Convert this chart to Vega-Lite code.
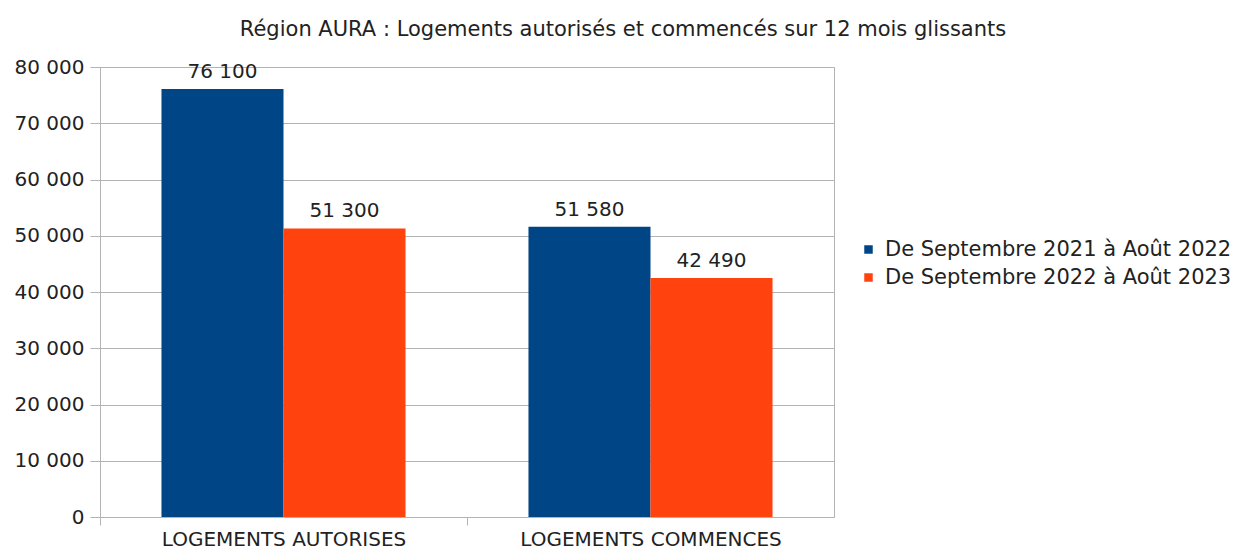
{
  "$schema": "https://vega.github.io/schema/vega-lite/v6.json",
  "width": 734,
  "height": 450,
  "autosize": {"type": "none"},
  "padding": {"left": 100, "top": 67, "right": 404, "bottom": 32},
  "background": "white",
  "title": {
    "text": "Région AURA : Logements autorisés et commencés sur 12 mois glissants",
    "frame": "bounds",
    "anchor": "middle",
    "font": "DejaVu Sans",
    "fontSize": 21,
    "fontWeight": "normal",
    "color": "#222222",
    "offset": 17
  },
  "config": {
    "view": {"stroke": "#b3b3b3", "strokeWidth": 1},
    "font": "DejaVu Sans",
    "locale": {
      "number": {"decimal": ",", "thousands": " ", "grouping": [3], "currency": ["", " €"]}
    }
  },
  "data": {
    "values": [
      {"cat": "LOGEMENTS AUTORISES", "period": "De Septembre 2021 à Août 2022", "value": 76100},
      {"cat": "LOGEMENTS AUTORISES", "period": "De Septembre 2022 à Août 2023", "value": 51300},
      {"cat": "LOGEMENTS COMMENCES", "period": "De Septembre 2021 à Août 2022", "value": 51580},
      {"cat": "LOGEMENTS COMMENCES", "period": "De Septembre 2022 à Août 2023", "value": 42490}
    ]
  },
  "encoding": {
    "x": {
      "field": "cat",
      "type": "nominal",
      "sort": null,
      "title": null,
      "scale": {"paddingInner": 0.335, "paddingOuter": 0.1675},
      "axis": {
        "labelAngle": 0,
        "labelFontSize": 20,
        "labelColor": "#222222",
        "labelPadding": 4,
        "labelLimit": 500,
        "labelOffset": 61,
        "bandPosition": 0,
        "tickOffset": -61,
        "tickSize": 8,
        "tickColor": "#b3b3b3",
        "domain": false,
        "grid": false
      }
    },
    "xOffset": {"field": "period", "type": "nominal", "sort": null},
    "y": {
      "field": "value",
      "type": "quantitative",
      "title": null,
      "scale": {"domain": [0, 80000]},
      "axis": {
        "values": [0, 10000, 20000, 30000, 40000, 50000, 60000, 70000, 80000],
        "format": ",.0f",
        "labelFontSize": 20,
        "labelColor": "#222222",
        "labelPadding": 6,
        "tickSize": 10,
        "tickColor": "#b3b3b3",
        "gridColor": "#b3b3b3",
        "domain": false
      }
    }
  },
  "layer": [
    {
      "mark": {"type": "bar"},
      "encoding": {
        "color": {
          "field": "period",
          "type": "nominal",
          "sort": null,
          "scale": {"range": ["#004586", "#ff420e"]},
          "legend": {
            "title": null,
            "orient": "none",
            "legendX": 758,
            "legendY": 172,
            "symbolType": "square",
            "symbolSize": 72,
            "symbolStrokeWidth": 0,
            "labelFontSize": 21,
            "labelColor": "#222222",
            "labelOffset": 6,
            "rowPadding": 6,
            "labelLimit": 500
          }
        }
      }
    },
    {
      "mark": {"type": "text", "dy": -11, "baseline": "alphabetic", "fontSize": 20, "color": "#222222"},
      "encoding": {
        "text": {"field": "value", "type": "quantitative", "format": ",.0f"}
      }
    }
  ]
}
